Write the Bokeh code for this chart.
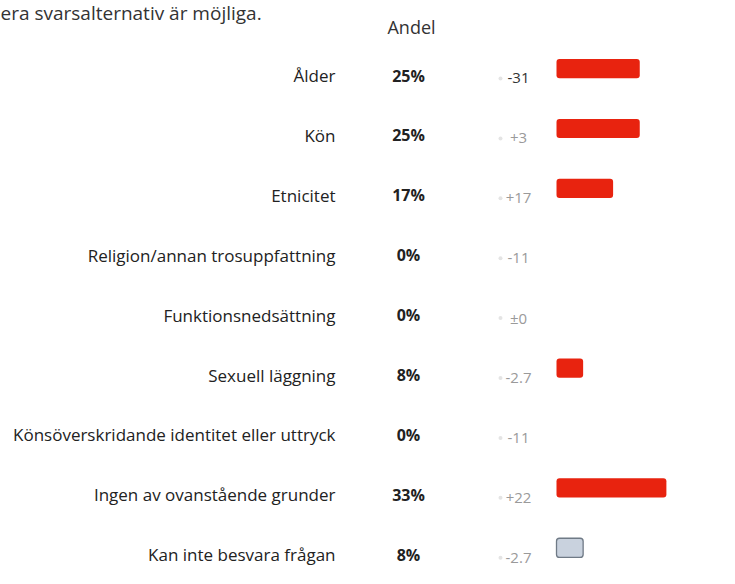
import numpy as np
from bokeh.plotting import figure
from bokeh.models import ColumnDataSource, Range1d, Label
from bokeh.core.properties import value
from bokeh.transform import dodge
from bokeh.embed import file_html
from bokeh.resources import INLINE

# ---- data ----
categories = [
    "Ålder",
    "Kön",
    "Etnicitet",
    "Religion/annan trosuppfattning",
    "Funktionsnedsättning",
    "Sexuell läggning",
    "Könsöverskridande identitet eller uttryck",
    "Ingen av ovanstående grunder",
    "Kan inte besvara frågan",
]
andel = [25, 25, 17, 0, 0, 8, 0, 33, 8]
change_labels = ["-31", "+3", "+17", "-11", "±0", "-2.7", "-11", "+22", "-2.7"]
header = "Andel"
intro = "era svarsalternativ är möjliga."

# ---- layout constants (pixels) ----
W, H = 719, 568
PX = 3.33            # pixels per percent
BAR0 = 556           # canvas x where bars start
ROW = 59.9           # pixels per row
TOP_ROW = 75         # canvas y of first row centre
FONT = "Open Sans"

n = len(categories)
y = [n - 1 - i for i in range(n)]
bar_colors = ["#e8230f"] * (n - 1) + ["#c9d2de"]
bar_lines = [None] * (n - 1) + ["#6f7a86"]
chg_colors = ["#333333"] + ["#9a9a9a"] * (n - 1)

src = ColumnDataSource(dict(
    y=y,
    cat=categories,
    andel=andel,
    pct=[f"{v}%" for v in andel],
    chg=change_labels,
    fill=bar_colors,
    line=bar_lines,
    chgc=chg_colors,
))

p = figure(
    width=W, height=H,
    x_range=Range1d(-BAR0 / PX, (W - BAR0) / PX),
    y_range=Range1d(-(H - TOP_ROW - (n - 1) * ROW) / ROW, (n - 1) + TOP_ROW / ROW),
    output_backend="svg", toolbar_location=None,
    min_border=0,
)
p.axis.visible = False
p.grid.visible = False
p.outline_line_color = None
p.background_fill_color = "white"
p.border_fill_color = "white"

# bars
p.hbar(y=dodge("y", 0.115), left=0, right="andel", height=0.32, source=src,
       fill_color="fill", line_color="line", line_width=1.3, border_radius=3)

# category labels
p.text(x=(335 - BAR0) / PX, y="y", text="cat", source=src,
       text_align="right", text_baseline="middle",
       text_font=value(FONT), text_font_size="17px", text_color="#222222")

# percent values
p.text(x=(408 - BAR0) / PX, y="y", text="pct", source=src,
       text_align="center", text_baseline="middle",
       text_font=value(FONT), text_font_size="16px", text_font_style="bold",
       text_color="#222222")

# small markers before change
p.scatter(x=(500 - BAR0) / PX, y=dodge("y", -0.05), source=src, size=4,
          marker="circle", fill_color="#e4e4e4", line_color=None)

# change values
p.text(x=(518 - BAR0) / PX, y=dodge("y", -0.05), text="chg", source=src,
       text_align="center", text_baseline="middle",
       text_font=value(FONT), text_font_size="15px", text_color="chgc")

p.add_layout(Label(x=411, y=H - 26, x_units="screen", y_units="screen",
                   text=header, text_align="center", text_baseline="middle",
                   text_font=FONT, text_font_size="18px", text_color="#333333"))
p.add_layout(Label(x=0, y=H + 1, x_units="screen", y_units="screen",
                   text=intro, text_align="left", text_baseline="top",
                   text_font=FONT, text_font_size="19px", text_color="#333333"))

open("out.html", "w").write(file_html(p, INLINE))
